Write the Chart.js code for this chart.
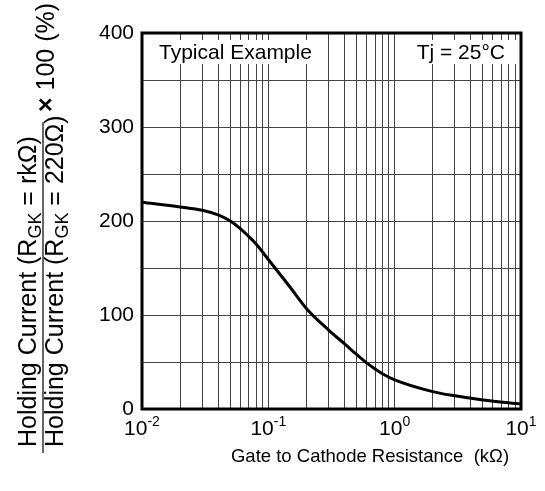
<!DOCTYPE html>
<html>
<head>
<meta charset="utf-8">
<script src="https://cdn.jsdelivr.net/npm/chart.js@4.4.0/dist/chart.umd.min.js"></script>
<style>
  html, body { margin: 0; padding: 0; background: #fff; }
  #wrap { width: 545px; height: 491px; position: relative; }
</style>
</head>
<body>
<div id="wrap"><canvas id="myChart"></canvas></div>
<script>
// curve (x in kOhm, y in %)
let resistance = [0.01, 0.02, 0.03, 0.04, 0.05, 0.06, 0.07, 0.08, 0.1, 0.15, 0.2, 0.3, 0.4, 0.5, 0.6, 0.7, 0.8, 1, 2, 3, 5, 10];
let holdingRatio = [220, 215, 211.5, 206.5, 200, 192, 183.5, 175.5, 159, 129, 107, 84, 69.5, 58, 49, 42.5, 37.5, 31, 18.5, 14, 9.6, 5.3];

// log grid: 1..9 in every decade
let xGridValues = [0.01, 0.02, 0.03, 0.04, 0.05, 0.06, 0.07, 0.08, 0.09,
                   0.1, 0.2, 0.3, 0.4, 0.5, 0.6, 0.7, 0.8, 0.9,
                   1, 2, 3, 4, 5, 6, 7, 8, 9, 10];
let decadeValues = [0.01, 0.1, 1, 10];
let decadeExponents = ["-2", "-1", "0", "1"];

let yMin = 0;
let yMax = 400;
let yStep = 50;
let yLabelStep = 100;

let fontFamily = "'Liberation Sans', Arial, Helvetica, sans-serif";

// draw a string with a lowered subscript part, left aligned at (0,0)
function drawParts(ctx, parts, size, subSize) {
    let x = 0;
    for (let i = 0; i < parts.length; i++) {
        let p = parts[i];
        ctx.font = (p.sub ? subSize : size) + "px " + fontFamily;
        ctx.fillText(p.t, x, p.sub ? 5 : 0);
        x += ctx.measureText(p.t).width;
    }
}

let extras = {
    id: "extras",
    afterDraw: function(chart) {
        let ctx = chart.ctx;
        let area = chart.chartArea;
        let xScale = chart.scales.x;

        ctx.save();

        // white boxes behind the two notes
        ctx.fillStyle = "#fff";
        ctx.fillRect(area.left, area.top + 7, 176, 24);
        ctx.fillRect(405, area.top + 7, area.right - 405, 24);

        ctx.fillStyle = "#000";
        ctx.textBaseline = "alphabetic";
        ctx.font = "21px " + fontFamily;
        ctx.textAlign = "left";
        ctx.fillText("Typical Example", area.left + 17, area.top + 26);
        ctx.textAlign = "right";
        ctx.fillText("Tj = 25°C", area.right - 16, area.top + 26);

        // x tick labels 10^n
        ctx.textAlign = "left";
        for (let i = 0; i < decadeValues.length; i++) {
            let px = xScale.getPixelForValue(decadeValues[i]);
            ctx.font = "21px " + fontFamily;
            let wb = ctx.measureText("10").width;
            ctx.font = "14px " + fontFamily;
            let we = ctx.measureText(decadeExponents[i]).width;
            let start = px - (wb + we) / 2;
            ctx.font = "21px " + fontFamily;
            ctx.fillText("10", start, area.bottom + 26);
            ctx.font = "14px " + fontFamily;
            ctx.fillText(decadeExponents[i], start + wb, area.bottom + 17);
        }

        // x axis title
        ctx.textAlign = "center";
        ctx.font = "18.5px " + fontFamily;
        ctx.fillText("Gate to Cathode Resistance  (k\u03A9)", 370, 462);

        // y axis title as a fraction
        ctx.textAlign = "left";
        ctx.save();
        ctx.translate(36, 447);
        ctx.rotate(-Math.PI / 2);
        drawParts(ctx, [{t: "Holding Current (R"}, {t: "GK", sub: true}, {t: " = rk\u03A9)"}], 25, 18);
        ctx.restore();

        ctx.save();
        ctx.translate(63, 447);
        ctx.rotate(-Math.PI / 2);
        drawParts(ctx, [{t: "Holding Current (R"}, {t: "GK", sub: true}, {t: " = 220\u03A9)"}], 25, 18);
        ctx.restore();

        ctx.strokeStyle = "#333";
        ctx.lineWidth = 1.5;
        ctx.beginPath();
        ctx.moveTo(43, 122);
        ctx.lineTo(43, 453);
        ctx.stroke();

        ctx.save();
        ctx.translate(47, 112);
        ctx.rotate(-Math.PI / 2);
        ctx.textBaseline = "middle";
        ctx.font = "bold 25px " + fontFamily;
        ctx.fillText("\u00D7", 0, 0);
        let wx = ctx.measureText("\u00D7").width;
        ctx.font = "25px " + fontFamily;
        ctx.fillText(" 100 (%)", wx, 0);
        ctx.restore();

        // frame
        ctx.strokeStyle = "#000";
        ctx.lineWidth = 3;
        ctx.strokeRect(area.left, area.top, area.right - area.left, area.bottom - area.top);

        ctx.restore();
    }
};

let points = [];
for (let i = 0; i < resistance.length; i++) {
    points.push({x: resistance[i], y: holdingRatio[i]});
}

let ctx = document.getElementById("myChart").getContext("2d");
let chart = new Chart(ctx, {
    type: "line",
    data: {
        datasets: [{
            data: points,
            borderColor: "#000",
            borderWidth: 3,
            pointRadius: 0,
            cubicInterpolationMode: "monotone",
            fill: false
        }]
    },
    options: {
        responsive: true,
        maintainAspectRatio: false,
        animation: false,
        devicePixelRatio: 1,
        layout: {
            padding: {left: 0, right: 24, top: 33, bottom: 82}
        },
        plugins: {
            legend: {display: false},
            tooltip: {enabled: false}
        },
        scales: {
            x: {
                type: "logarithmic",
                min: 0.01,
                max: 10,
                afterBuildTicks: function(scale) {
                    scale.ticks = xGridValues.map(v => ({value: v}));
                },
                afterFit: function(scale) {
                    scale.height = 0;
                },
                ticks: {display: false, autoSkip: false},
                grid: {color: "#444", lineWidth: 1, drawTicks: false},
                border: {display: false}
            },
            y: {
                min: yMin,
                max: yMax,
                afterFit: function(scale) {
                    scale.width = 142;
                },
                ticks: {
                    stepSize: yStep,
                    autoSkip: false,
                    padding: 8,
                    color: "#000",
                    font: {family: fontFamily, size: 21},
                    callback: function(v) {
                        return v % yLabelStep === 0 ? v : "";
                    }
                },
                grid: {color: "#444", lineWidth: 1, drawTicks: false},
                border: {display: false}
            }
        }
    },
    plugins: [extras]
});
</script>
</body>
</html>
